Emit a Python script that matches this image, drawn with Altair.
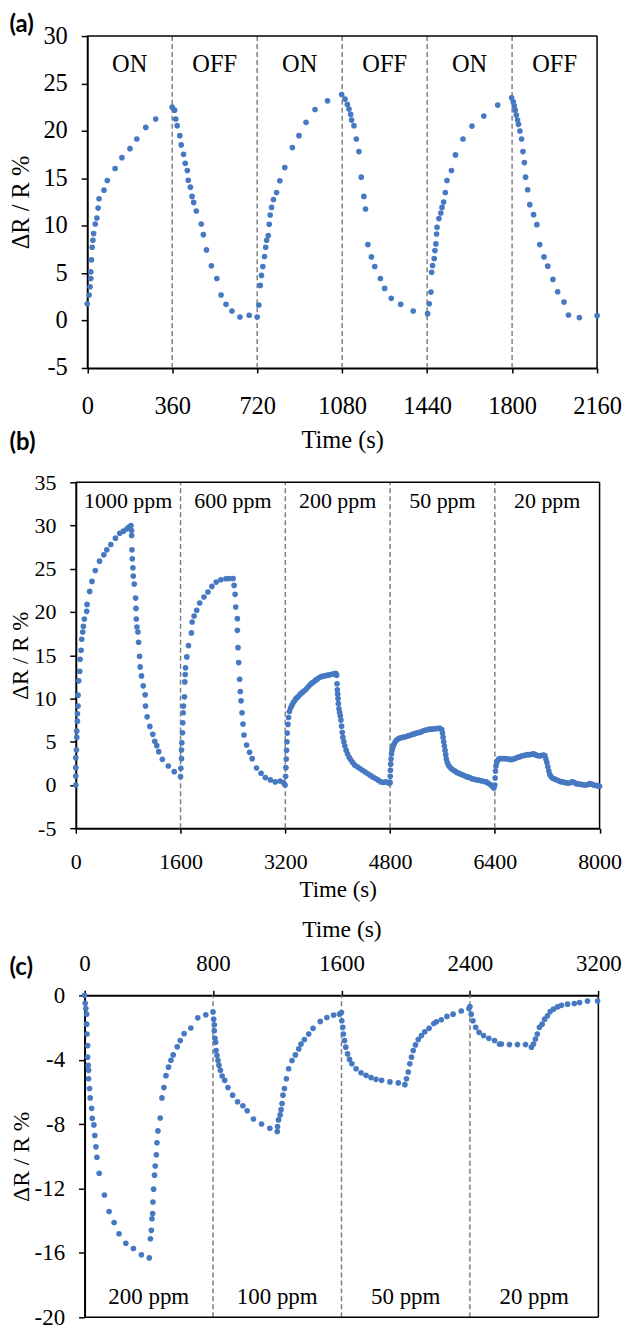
import altair as alt
import pandas as pd

# ---------------- Panel (a): ON/OFF cycles ----------------
a_t = [0, 8, 12, 15, 15, 18, 21, 24, 27, 34, 41, 46, 50, 71, 85, 118, 147, 181, 210, 248, 290,
       360, 370, 375, 381, 392, 398, 408, 415, 424, 428, 437, 444, 451, 462, 483, 492, 505, 526, 549, 567, 588, 613, 647, 686,
       720, 727, 733, 738, 744, 751, 756, 760, 767, 771, 775, 781, 789, 802, 816, 837, 869, 897, 927, 965, 1018,
       1078, 1092, 1102, 1109, 1116, 1120, 1130, 1140, 1151, 1161, 1172, 1179, 1189, 1204, 1218, 1242, 1260, 1288, 1328, 1381,
       1442, 1449, 1456, 1459, 1463, 1470, 1473, 1477, 1480, 1482, 1490, 1498, 1503, 1510, 1517, 1524, 1543, 1560, 1592, 1630, 1680, 1739,
       1798, 1805, 1809, 1813, 1818, 1823, 1827, 1833, 1840, 1846, 1852, 1857, 1866, 1875, 1891, 1905, 1917, 1935, 1951, 1973, 1993, 2020, 2039, 2085, 2160]
a_v = [1.77, 2.7, 3.56, 4.44, 5.14, 6.4, 7.73, 8.47, 9.17, 10.18, 10.81, 11.86, 12.85, 13.75, 14.77, 16.03, 17.18, 18.13, 19.15, 20.37, 21.25,
       22.5, 22.19, 21.25, 20.55, 19.5, 18.52, 17.53, 16.59, 15.82, 14.8, 14.07, 13.09, 12.46, 11.55, 10.18, 9.06, 7.45, 5.77, 4.44, 2.7, 1.71, 1.01, 0.38, 0.56,
       0.38, 1.64, 3.71, 4.76, 5.7, 6.75, 7.73, 8.47, 8.96, 10.15, 11.13, 11.93, 12.77, 13.5, 14.74, 16.13, 18.24, 19.5, 20.9, 22.26, 23.17,
       23.84, 23.35, 22.79, 22.3, 21.74, 21.14, 20.55, 19.15, 17.82, 15.12, 13.09, 11.76, 8.01, 6.71, 5.7, 4.44, 3.39, 2.34, 1.71, 1.01,
       0.73, 1.77, 3.0, 5.1, 5.81, 6.54, 7.38, 8.08, 9.13, 9.83, 10.75, 11.34, 11.93, 12.49, 13.5, 14.77, 15.82, 17.47, 19.15, 20.51, 21.56, 22.72,
       23.49, 23.07, 22.65, 22.19, 21.67, 21.14, 20.69, 19.99, 19.15, 17.82, 16.66, 15.12, 13.79, 12.22, 11.17, 10.11, 8.01, 6.71, 5.74, 4.34, 3.04, 1.95, 0.59, 0.31, 0.52]
a_bounds = [360, 720, 1080, 1440, 1800]
a_labels = ["ON", "OFF", "ON", "OFF", "ON", "OFF"]
a_xticks = [0, 360, 720, 1080, 1440, 1800, 2160]
a_yticks = [-5, 0, 5, 10, 15, 20, 25, 30]

# ---------------- Panel (b): decreasing concentrations ----------------
b_t = [0, 0, 0, 0, 10, 15, 15, 25, 25, 35, 35, 45, 61, 66, 81, 91, 106, 116, 131, 167, 172, 212, 247, 298, 363, 429, 474, 535, 606, 671, 727, 782, 813, 843,
       853, 853, 858, 863, 873, 878, 893, 914, 919, 924, 934, 949, 959, 974, 984, 1004, 1030, 1060, 1065, 1090, 1131, 1176, 1206, 1237, 1267, 1322, 1413, 1504, 1600,
       1605, 1615, 1615, 1620, 1630, 1635, 1640, 1645, 1660, 1665, 1671, 1676, 1696, 1721, 1766, 1777, 1807, 1847, 1893, 1958, 2019, 2079, 2145, 2217, 2293, 2343, 2403,
       2418, 2433, 2443, 2468, 2468, 2478, 2488, 2503, 2513, 2524, 2539, 2554, 2569, 2609, 2654, 2694, 2760, 2830, 2895, 2971, 3046, 3121, 3171, 3197,
       3205, 3210, 3215, 3220, 3225, 3230, 3240, 3250, 3262, 3280, 3300, 3320, 3340, 3360, 3380, 3400, 3430, 3460, 3490, 3520, 3550, 3580, 3610, 3640, 3670, 3700,
       3730, 3760, 3790, 3820, 3850, 3880, 3910, 3940, 3970, 3985,
       3990, 3995, 4000, 4005, 4010, 4020, 4030, 4040, 4050, 4060, 4070, 4080, 4095, 4110, 4130, 4150, 4175, 4200, 4230, 4260, 4300, 4340, 4380, 4420, 4460, 4500,
       4540, 4580, 4620, 4660, 4700, 4740, 4770, 4795,
       4800, 4803, 4806, 4810, 4815, 4822, 4830, 4845, 4860, 4880, 4900, 4930, 4960, 4990, 5020, 5050, 5080, 5110, 5140, 5170, 5200, 5230, 5260, 5290, 5320, 5350,
       5380, 5410, 5440, 5470, 5500, 5530, 5560, 5590,
       5600, 5610, 5620, 5630, 5640, 5650, 5660, 5675, 5690, 5710, 5735, 5760, 5790, 5820, 5850, 5880, 5910, 5940, 5970, 6000, 6030, 6060, 6090, 6120, 6150, 6180,
       6210, 6240, 6270, 6300, 6330, 6360, 6385,
       6400, 6405, 6410, 6418, 6428, 6440, 6460, 6480, 6510, 6540, 6570, 6600, 6630, 6660, 6690, 6720, 6750, 6780, 6810, 6840, 6870, 6900, 6930, 6960, 6990, 7020,
       7050, 7080, 7110, 7140, 7165, 7180, 7195, 7210, 7225, 7240, 7260, 7280, 7310, 7340, 7370, 7400, 7430, 7460, 7490, 7520, 7550, 7580, 7610, 7640, 7670, 7700,
       7730, 7760, 7790, 7820, 7850, 7880, 7910, 7940, 7970, 8000]
b_v = [0, 1.04, 2.0, 3.15, 4.04, 5.5, 6.23, 7.38, 8.23, 9.12, 10.38, 12.04, 13.15, 14.54, 15.58, 16.85, 17.69, 18.35, 19.19, 20.08, 20.88, 22.38, 23.54, 24.8, 25.88, 26.61, 27.19, 27.81, 28.54, 29.11, 29.35, 29.62, 29.81, 30.0,
       29.42, 28.85, 27.19, 26.15, 25.11, 24.15, 23.23, 21.61, 20.42, 19.19, 18.27, 17.69, 16.5, 14.88, 13.65, 12.61, 11.46, 10.42, 9.12, 7.88, 6.77, 5.85, 5.04, 4.54, 3.85, 2.96, 2.19, 1.54, 0.96,
       1.92, 3.04, 4.04, 4.88, 6.04, 7.19, 8.35, 9.12, 10.19, 11.92, 12.77, 13.54, 14.81, 16.12, 17.58, 18.85, 19.54, 20.19, 21.04, 21.73, 22.31, 22.96, 23.46, 23.73, 23.85, 23.88, 23.88,
       23.08, 22.04, 20.58, 19.23, 17.88, 15.88, 14.15, 12.23, 10.81, 9.73, 8.35, 7.04, 5.77, 4.62, 3.77, 3.04, 1.96, 1.35, 0.85, 0.58, 0.35, 0.46, 0.27, 0.0,
       1.0, 2.0, 3.0, 4.0, 5.0, 6.0, 7.0, 7.8, 8.5, 8.9, 9.2, 9.5, 9.7, 9.95, 10.1, 10.25, 10.5, 10.7, 10.9, 11.1, 11.35, 11.6, 11.8, 11.95, 12.15, 12.3,
       12.45, 12.55, 12.6, 12.65, 12.7, 12.75, 12.8, 12.85, 12.9, 12.7,
       11.7, 11.0, 10.5, 10.0, 9.4, 8.8, 8.4, 8.0, 7.5, 6.8, 6.1, 5.5, 5.0, 4.5, 4.0, 3.6, 3.2, 2.9, 2.6, 2.3, 2.1, 1.9, 1.7, 1.5, 1.3, 1.1,
       0.9, 0.75, 0.55, 0.35, 0.3, 0.35, 0.25, 0.2,
       0.3, 1.0, 1.7, 2.4, 3.0, 3.6, 4.0, 4.4, 4.7, 5.0, 5.2, 5.35, 5.45, 5.5, 5.55, 5.6, 5.7, 5.75, 5.85, 5.9, 6.0, 6.05, 6.1, 6.2, 6.3, 6.35,
       6.4, 6.45, 6.45, 6.5, 6.5, 6.55, 6.55, 6.4,
       6.0, 5.5, 5.0, 4.5, 4.0, 3.5, 3.0, 2.6, 2.3, 2.1, 1.9, 1.75, 1.6, 1.45, 1.35, 1.25, 1.15, 1.05, 0.95, 0.9, 0.8, 0.7, 0.65, 0.6, 0.55, 0.5,
       0.45, 0.4, 0.35, 0.2, 0.05, -0.15, -0.35,
       0.0, 0.8, 1.6, 2.2, 2.6, 2.8, 3.0, 3.05, 3.05, 3.05, 3.05, 3.0, 2.95, 2.95, 3.0, 3.1, 3.2, 3.25, 3.35, 3.4, 3.45, 3.5, 3.5, 3.55, 3.6, 3.5,
       3.4, 3.35, 3.4, 3.45, 3.4, 3.0, 2.6, 2.1, 1.6, 1.2, 0.95, 0.8, 0.7, 0.6, 0.5, 0.4, 0.35, 0.3, 0.25, 0.2, 0.25, 0.35, 0.3, 0.15, 0.1, 0.1,
       0.05, 0.0, 0.0, 0.05, 0.15, 0.1, 0.0, -0.05, -0.1, -0.15]
b_bounds = [1600, 3200, 4800, 6400]
b_labels = ["1000 ppm", "600 ppm", "200 ppm", "50 ppm", "20 ppm"]
b_xticks = [0, 1600, 3200, 4800, 6400, 8000]
b_yticks = [-5, 0, 5, 10, 15, 20, 25, 30, 35]

# ---------------- Panel (c): negative response ----------------
c_t = [0, 4, 8, 13, 13, 15, 19, 19, 23, 25, 25, 31, 35, 44, 48, 58, 64, 71, 77, 91, 124, 153, 184, 215, 257, 304, 354, 403,
       410, 416, 420, 424, 426, 430, 436, 440, 447, 451, 457, 471, 482, 494, 507, 523, 538, 552, 577, 596, 620, 662, 705, 755,
       800, 804, 808, 808, 812, 816, 819, 825, 831, 837, 846, 857, 873, 893, 922, 953, 986, 1013, 1052, 1102, 1154, 1200,
       1202, 1208, 1218, 1224, 1230, 1236, 1245, 1257, 1271, 1292, 1313, 1334, 1348, 1369, 1396, 1423, 1468, 1509, 1551, 1588,
       1600, 1602, 1608, 1612, 1619, 1627, 1638, 1650, 1665, 1691, 1722, 1753, 1784, 1815, 1850, 1902, 1954, 1995,
       2005, 2016, 2026, 2036, 2047, 2061, 2078, 2098, 2119, 2146, 2175, 2191, 2222, 2257, 2295, 2346, 2394,
       2400, 2408, 2419, 2436, 2457, 2485, 2518, 2553, 2584, 2596, 2646, 2696, 2746, 2783,
       2796, 2808, 2820, 2833, 2850, 2865, 2883, 2900, 2920, 2945, 2970, 3008, 3050, 3083, 3132, 3195]
c_v = [0, -0.49, -0.82, -1.17, -1.79, -2.4, -3.12, -3.84, -4.35, -4.66, -5.18, -5.79, -6.37, -7.02, -7.64, -8.05, -8.71, -9.41, -10.06, -11.05, -12.4, -13.43, -14.11, -14.81, -15.4, -15.73, -16.12, -16.31,
       -15.12, -14.6, -13.88, -13.56, -12.84, -12.04, -11.17, -10.6, -9.9, -9.16, -8.42, -7.62, -6.37, -5.73, -4.99, -4.46, -4.03, -3.7, -3.2, -2.81, -2.38, -2.03, -1.4, -1.21,
       -1.03, -1.48, -1.83, -2.2, -2.67, -2.92, -3.43, -3.74, -4.05, -4.35, -4.66, -5.01, -5.28, -5.73, -6.2, -6.61, -6.86, -7.17, -7.68, -7.99, -8.26, -8.46,
       -8.15, -7.74, -7.43, -7.1, -6.72, -6.2, -5.79, -5.18, -4.56, -4.05, -3.7, -3.33, -3.02, -2.75, -2.4, -2.05, -1.62, -1.38, -1.23, -1.17,
       -1.07, -1.58, -1.99, -2.4, -2.81, -3.22, -3.64, -3.98, -4.25, -4.56, -4.81, -4.97, -5.11, -5.22, -5.28, -5.38, -5.44, -5.55,
       -5.18, -4.76, -4.25, -3.84, -3.43, -3.08, -2.75, -2.5, -2.26, -2.05, -1.75, -1.64, -1.52, -1.31, -1.17, -0.97, -0.82,
       -0.7, -1.17, -1.58, -1.99, -2.3, -2.5, -2.67, -2.81, -3.02, -3.02, -3.06, -3.06, -3.06, -3.22,
       -3.02, -2.71, -2.4, -1.99, -1.79, -1.48, -1.27, -1.01, -0.86, -0.72, -0.62, -0.55, -0.51, -0.45, -0.35, -0.35]
c_bounds = [800, 1600, 2400]
c_labels = ["200 ppm", "100 ppm", "50 ppm", "20 ppm"]
c_xticks = [0, 800, 1600, 2400, 3200]
c_yticks = [-20, -16, -12, -8, -4, 0]

# ---------------- styling ----------------
SERIF = "Liberation Serif"
BOLD = "Lato"
BLUE = "#4679c2"
YTITLE = "ΔR / R %"


def mids(edges):
    return [(edges[i] + edges[i + 1]) / 2 for i in range(len(edges) - 1)]


def axis_common(fs, tfs):
    return dict(labelFont=SERIF, labelFontSize=fs, labelColor="black", titleFont=SERIF,
                titleFontSize=tfs, titleFontWeight="normal", titleColor="black", grid=False,
                domainColor="black", domainWidth=2, tickColor="black", tickWidth=1.5,
                labelExpr="'' + datum.value", labelOverlap=False, labelFlush=False)


def panel(t, v, bounds, labels, xticks, yticks, xmax, ydom, w, h, shift, top_extra,
          fs, tfs, title_x, label_y, x_orient, x_label_pad, x_title_y, tags, top_hold=None):
    df = pd.DataFrame({"t": t, "v": v})
    ymin, ymax = ydom
    xscale = alt.Scale(domain=[0, xmax], range=[shift, shift + w], nice=False, zero=False)
    yscale = alt.Scale(domain=ydom, range=[top_extra + h, top_extra], nice=False, zero=False)
    xaxis = alt.Axis(values=xticks, title="Time (s)", orient=x_orient, tickSize=5,
                     labelPadding=x_label_pad, titleX=shift + w / 2, titleY=x_title_y,
                     titleAlign="center", titleBaseline="alphabetic", titleAngle=0,
                     offset=-top_extra if x_orient == "top" else 0,
                     **axis_common(fs, tfs))
    yaxis = alt.Axis(values=yticks, title=YTITLE, tickSize=6, labelPadding=14, offset=-shift,
                     titleX=title_x, titleY=top_extra + h / 2, titleAngle=270, titleAlign="center",
                     titleBaseline="alphabetic", **axis_common(fs, tfs))
    xq = dict(type="quantitative")
    pts = alt.Chart(df).mark_circle(size=32, color=BLUE, opacity=1).encode(
        x=alt.X("t:Q", scale=xscale, axis=xaxis),
        y=alt.Y("v:Q", scale=yscale, axis=yaxis),
    )
    one = pd.DataFrame({"k": [0]})
    rules = alt.Chart(pd.DataFrame({"b": bounds})).mark_rule(
        color="#808080", strokeDash=[5, 3], strokeWidth=1.5).encode(
        x=alt.X("b:Q", scale=xscale), y=alt.YDatum(ymin, **xq), y2=alt.Y2Datum(ymax))
    right = alt.Chart(one).mark_rule(color="black", strokeWidth=1.5).encode(
        x=alt.XDatum(xmax, **xq), y=alt.YDatum(ymin, **xq), y2=alt.Y2Datum(ymax))
    other_y = ymin if x_orient == "top" else ymax
    horiz = alt.Chart(one).mark_rule(color="black", strokeWidth=1.5).encode(
        x=alt.XDatum(0, **xq), x2=alt.X2Datum(xmax), y=alt.YDatum(other_y, **xq))
    edges = [0] + bounds + [xmax]
    lab = alt.Chart(pd.DataFrame({"m": mids(edges), "lab": labels})).mark_text(
        font=SERIF, fontSize=fs, color="black", baseline="alphabetic", align="center").encode(
        x=alt.X("m:Q", scale=xscale), y=alt.value(label_y), text="lab:N")
    layers = [rules, right, horiz, pts, lab]
    for (txt, tx, ty) in tags:
        layers.append(alt.Chart(pd.DataFrame({"lab": [txt]})).mark_text(
            font=BOLD, fontWeight="bold", fontSize=24, color="black", align="left",
            baseline="top").encode(x=alt.value(tx), y=alt.value(ty), text="lab:N"))
    if top_hold is not None:
        # transparent spacer that keeps a small white margin above the panel tag
        layers.append(alt.Chart(pd.DataFrame({"lab": ["."]})).mark_text(
            fontSize=10, opacity=0, baseline="top", align="left").encode(
            x=alt.value(0), y=alt.value(top_hold), text="lab:N"))
    return alt.layer(*layers).properties(width=shift + w, height=top_extra + h)


pa = panel(a_t, a_v, a_bounds, a_labels, a_xticks, a_yticks, 2160, [-5, 30], 511.5, 333,
           11.5, 0, 24.5, 24.5, -58.6, 35.8, "bottom", 22, 80,
           [("(a)", -66.5, -23), ("(b)", -66.5, 396)], top_hold=-26)
pb = panel(b_t, b_v, b_bounds, b_labels, b_xticks, b_yticks, 8000, [-5, 35], 525.5, 347,
           0, 0, 22, 23, -48.3, 25.6, "bottom", 18, 69, [])
pc = panel(c_t, c_v, c_bounds, c_labels, c_xticks, c_yticks, 3200, [-20, 0], 515.5, 323,
           8.8, 53, 23, 23.6, -56.7, 363, "top", 15.4, -59, [("(c)", -66.5, 13.6)])

chart = alt.vconcat(pa, pb, pc, spacing=114.7, bounds="flush",
                    padding={"top": 0, "bottom": -3, "left": 0, "right": 0},
                    background="white").configure_view(strokeWidth=0)

chart.save("out.html", embed_options={"renderer": "svg", "actions": False})
